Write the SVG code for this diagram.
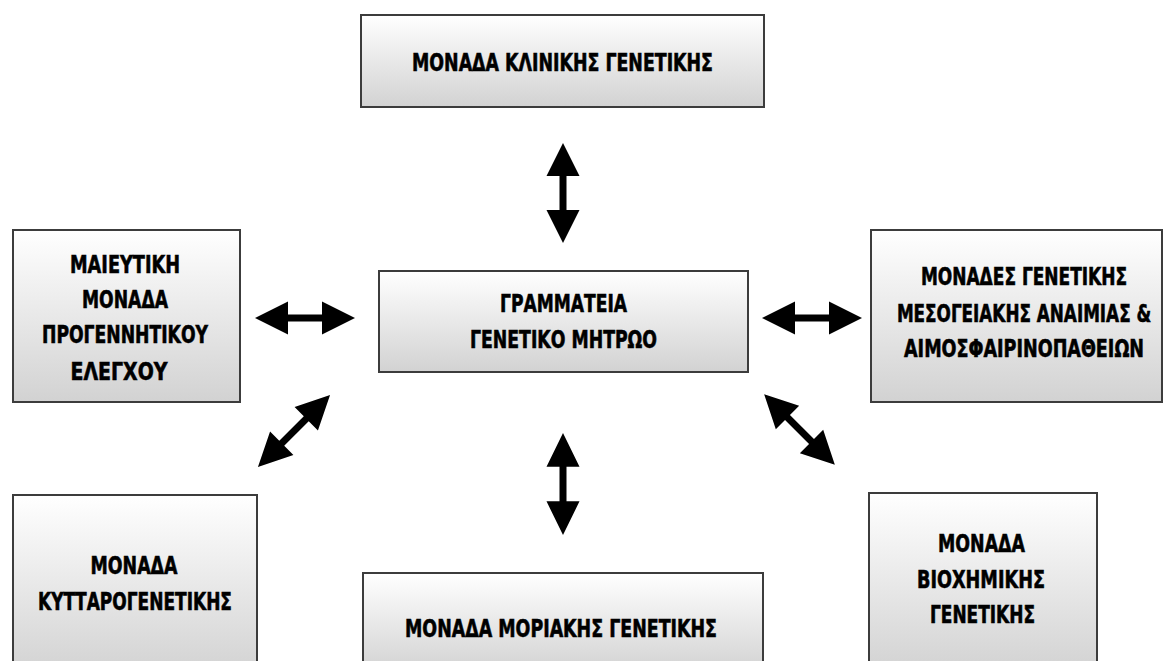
<svg xmlns="http://www.w3.org/2000/svg" xmlns:xlink="http://www.w3.org/1999/xlink" width="1165" height="661" viewBox="0 0 1165 661">
  <defs>
    <linearGradient id="boxfill" x1="0" y1="0" x2="0" y2="1">
      <stop offset="0" stop-color="#ffffff"/>
      <stop offset="1" stop-color="#d2d2d2"/>
    </linearGradient>
    <path id="dblarrow" d="M-50,0 L-17,-16.5 L-17,-3.5 L17,-3.5 L17,-16.5 L50,0 L17,16.5 L17,3.5 L-17,3.5 L-17,16.5 Z"/>
  </defs>
  <style>
    .box { fill: url(#boxfill); stroke: #3c3c3c; stroke-width: 2; }
    .lbl { font-family: "DejaVu Sans Condensed", "DejaVu Sans", sans-serif; font-weight: bold; font-size: 25px; fill: #000000; stroke: #000000; stroke-width: 0.6; text-anchor: middle; }
    .arrow { fill: #000000; }
  </style>
  <rect x="0" y="0" width="1165" height="661" fill="#ffffff"/>

  <g id="connectors">
    <use xlink:href="#dblarrow" class="arrow" transform="translate(563,193) rotate(90)"/>
    <use xlink:href="#dblarrow" class="arrow" transform="translate(563,484) rotate(90) scale(1.02,1)"/>
    <use xlink:href="#dblarrow" class="arrow" transform="translate(305,318)"/>
    <use xlink:href="#dblarrow" class="arrow" transform="translate(812,318)"/>
    <use xlink:href="#dblarrow" class="arrow" transform="translate(294,431) rotate(-45) scale(1.02,1)"/>
    <use xlink:href="#dblarrow" class="arrow" transform="translate(799.5,429.5) rotate(45)"/>
  </g>

  <g id="node-klinikis">
    <rect class="box" x="361" y="15" width="403" height="92"/>
    <text class="lbl" x="562.5" y="71" textLength="301" lengthAdjust="spacingAndGlyphs">ΜΟΝΑΔΑ ΚΛΙΝΙΚΗΣ ΓΕΝΕΤΙΚΗΣ</text>
  </g>

  <g id="node-maieutiki">
    <rect class="box" x="13" y="230" width="227" height="172"/>
    <text class="lbl" x="125" y="273" textLength="110" lengthAdjust="spacingAndGlyphs">ΜΑΙΕΥΤΙΚΗ</text>
    <text class="lbl" x="125" y="308" textLength="86" lengthAdjust="spacingAndGlyphs">ΜΟΝΑΔΑ</text>
    <text class="lbl" x="125" y="343" textLength="166" lengthAdjust="spacingAndGlyphs">ΠΡΟΓΕΝΝΗΤΙΚΟΥ</text>
    <text class="lbl" x="119" y="380" textLength="97" lengthAdjust="spacingAndGlyphs">ΕΛΕΓΧΟΥ</text>
  </g>

  <g id="node-grammateia">
    <rect class="box" x="379" y="271" width="369" height="101"/>
    <text class="lbl" x="563.5" y="312" textLength="127" lengthAdjust="spacingAndGlyphs">ΓΡΑΜΜΑΤΕΙΑ</text>
    <text class="lbl" x="563.5" y="348" textLength="187" lengthAdjust="spacingAndGlyphs">ΓΕΝΕΤΙΚΟ ΜΗΤΡΩΟ</text>
  </g>

  <g id="node-mesogeiakis">
    <rect class="box" x="871" y="230" width="291" height="172"/>
    <g transform="translate(1024,0) scale(0.75,1)">
      <text class="lbl" x="0" y="285" textLength="275" lengthAdjust="spacingAndGlyphs">ΜΟΝΑΔΕΣ ΓΕΝΕΤΙΚΗΣ</text>
      <text class="lbl" x="0" y="322" textLength="339" lengthAdjust="spacingAndGlyphs">ΜΕΣΟΓΕΙΑΚΗΣ ΑΝΑΙΜΙΑΣ &amp;</text>
      <text class="lbl" x="0" y="357" textLength="320" lengthAdjust="spacingAndGlyphs">ΑΙΜΟΣΦΑΙΡΙΝΟΠΑΘΕΙΩΝ</text>
    </g>
  </g>

  <g id="node-kyttarogenetikis">
    <rect class="box" x="13" y="495" width="244" height="180"/>
    <text class="lbl" x="134" y="574" textLength="87" lengthAdjust="spacingAndGlyphs">ΜΟΝΑΔΑ</text>
    <text class="lbl" x="135" y="610" textLength="194" lengthAdjust="spacingAndGlyphs">ΚΥΤΤΑΡΟΓΕΝΕΤΙΚΗΣ</text>
  </g>

  <g id="node-moriakis">
    <rect class="box" x="363" y="573" width="400" height="100"/>
    <text class="lbl" x="561" y="637" textLength="312" lengthAdjust="spacingAndGlyphs">ΜΟΝΑΔΑ ΜΟΡΙΑΚΗΣ ΓΕΝΕΤΙΚΗΣ</text>
  </g>

  <g id="node-viochimikis">
    <rect class="box" x="869" y="493" width="228" height="180"/>
    <text class="lbl" x="981.5" y="552" textLength="87" lengthAdjust="spacingAndGlyphs">ΜΟΝΑΔΑ</text>
    <text class="lbl" x="981" y="588" textLength="128" lengthAdjust="spacingAndGlyphs">ΒΙΟΧΗΜΙΚΗΣ</text>
    <text class="lbl" x="982.5" y="623" textLength="105" lengthAdjust="spacingAndGlyphs">ΓΕΝΕΤΙΚΗΣ</text>
  </g>
</svg>
